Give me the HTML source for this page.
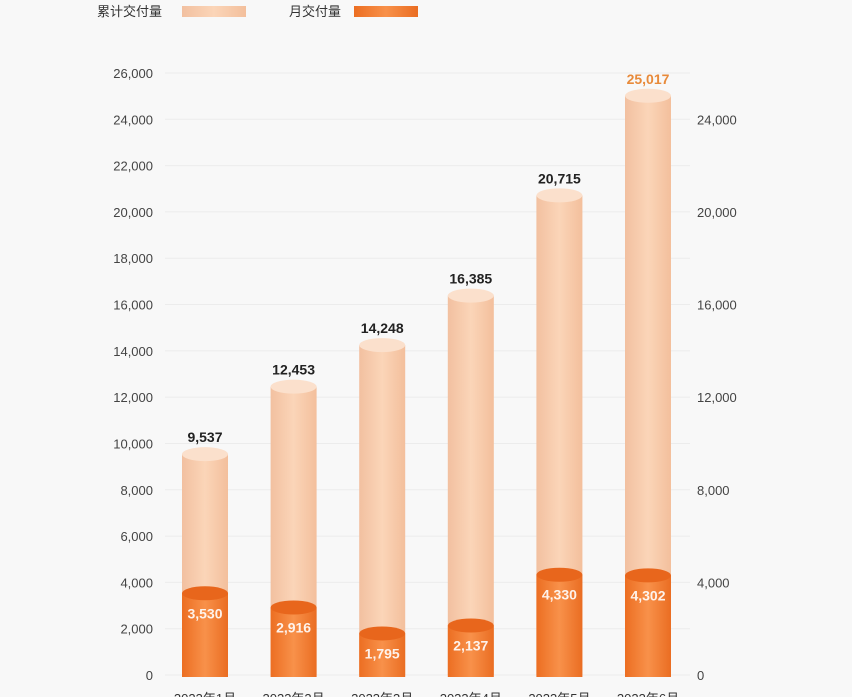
<!DOCTYPE html>
<html><head><meta charset="utf-8"><style>
body{margin:0;background:#f8f8f8;}
svg{display:block;font-family:"Liberation Sans","Noto Sans CJK SC",sans-serif;}
</style></head><body>
<svg id="chart" width="852" height="697" viewBox="0 0 852 697">
<defs>
<linearGradient id="gl" x1="0" x2="1"><stop offset="0" stop-color="#f2c0a0"/><stop offset="0.5" stop-color="#fbd5b8"/><stop offset="1" stop-color="#f3bf9c"/></linearGradient>
<linearGradient id="gd" x1="0" x2="1"><stop offset="0" stop-color="#ec6e22"/><stop offset="0.5" stop-color="#f8914a"/><stop offset="1" stop-color="#ea6d22"/></linearGradient>
</defs>
<g>
<text x="97" y="16" font-size="13" fill="#333">累计交付量</text>
<rect x="182" y="6" width="64" height="11" fill="url(#gl)"/>
<text x="289" y="16" font-size="13" fill="#333">月交付量</text>
<rect x="354" y="6" width="64" height="11" fill="url(#gd)"/>
</g>
<g id="grid"></g><g id="bars"></g>
</svg>
<script>
const categories=["2023年1月","2023年2月","2023年3月","2023年4月","2023年5月","2023年6月"];
const cumulative=[9537,12453,14248,16385,20715,25017];
const monthly=[3530,2916,1795,2137,4330,4302];
const leftTicks=[0,2000,4000,6000,8000,10000,12000,14000,16000,18000,20000,22000,24000,26000];
const rightTicks=[0,4000,8000,12000,16000,20000,24000];
const NS="http://www.w3.org/2000/svg";
const y0=675,yTop=73,maxV=26000;
const y=v=>y0-(v/maxV)*(y0-yTop);
const x=i=>205+i*88.6;
const bw=46,ry=7;
const fmt=v=>v.toLocaleString("en-US");
function mk(tag,attrs,parent){const e=document.createElementNS(NS,tag);for(const k in attrs)e.setAttribute(k,attrs[k]);parent.appendChild(e);return e;}
const grid=document.getElementById("grid"),bars=document.getElementById("bars");
leftTicks.forEach(t=>{
 const l=mk("line",{x1:165,x2:690,y1:y(t),y2:y(t),stroke:"#ececec","stroke-width":1},grid);
 
 
 const tx=mk("text",{x:153,y:y(t)+5,"text-anchor":"end","font-size":13,fill:"#444"},grid);
 tx.textContent=fmt(t);
 
 
});
rightTicks.forEach(t=>{
 const tx=mk("text",{x:697,y:y(t)+5,"font-size":13,fill:"#444"},grid);
 tx.textContent=fmt(t);
 
 
});
categories.forEach((c,i)=>{
 const cx=x(i),lft=cx-bw/2;
 const ct=y(cumulative[i]),mt=y(monthly[i]);
 const b=mk("rect",{x:lft,y:ct,width:bw,height:y0-ct,fill:"url(#gl)"},bars);
 
 
 const e=mk("ellipse",{cx:cx,cy:ct,rx:bw/2,ry:ry,fill:"#fbe0cc"},bars);
 
 
 const m=mk("rect",{x:lft,y:mt,width:bw,height:y0+2-mt,fill:"url(#gd)"},bars);
 
 
 const me=mk("ellipse",{cx:cx,cy:mt,rx:bw/2,ry:ry,fill:"#e8661c"},bars);
 
 
 const cl=mk("text",{x:cx,y:ct-12,"text-anchor":"middle","font-size":14,"font-weight":"bold",fill:i==5?"#e88a3a":"#222"},bars);
 cl.textContent=fmt(cumulative[i]);
 
 
 const ml=mk("text",{x:cx,y:mt+25,"text-anchor":"middle","font-size":14,"font-weight":"bold",fill:"#fff","fill-opacity":0.9},bars);
 ml.textContent=fmt(monthly[i]);
 
 
 const xl=mk("text",{x:cx,y:703,"text-anchor":"middle","font-size":13,fill:"#333"},bars);
 xl.textContent=c;
 
 
});
</script>
</body></html>
